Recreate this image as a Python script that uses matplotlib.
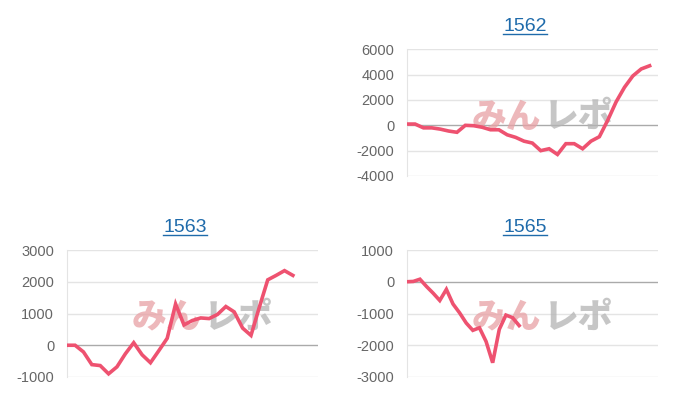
import numpy as np
import matplotlib
matplotlib.use("Agg")
import matplotlib.pyplot as plt
from matplotlib.lines import Line2D

plt.rcParams['font.family'] = ['Liberation Sans', 'Noto Sans CJK JP', 'DejaVu Sans']

# data
v1562 = [100, 100, -200, -200, -300, -450, -550, 0, -30, -150, -350, -350,
         -750, -950, -1250, -1400, -2000, -1850, -2300, -1450, -1450, -1850,
         -1250, -900, 400, 1850, 3000, 3900, 4450, 4700]
v1563 = [0, 0, -210, -610, -640, -900, -680, -270, 80, -300, -550, -170,
         220, 1300, 640, 780, 860, 840, 970, 1220, 1050, 540, 310, 1200,
         2060, 2200, 2350, 2200]
v1565 = [0, 10, 80, -150, -360, -590, -240, -700, -980, -1300, -1530, -1450,
         -1880, -2550, -1500, -1050, -1130, -1380]

charts = [
    # name, values, x span, y ticks
    ("1562", v1562, 30, [-4000, -2000, 0, 2000, 4000, 6000]),
    ("1563", v1563, 30, [-1000, 0, 1000, 2000, 3000]),
    ("1565", v1565, 38, [-3000, -2000, -1000, 0, 1000]),
]

W, H = 700, 400
# axes boxes in pixels: left, top, right, bottom
boxes = [(406.7, 49.3, 658, 176), (66.7, 250, 318, 377), (406.7, 250, 658, 377)]

fig = plt.figure(figsize=(7, 4), dpi=100)
line_col = "#ee5270"
title_col = "#1f6bab"

for (name, vals, span, yt), (l, t, r, b) in zip(charts, boxes):
    ax = fig.add_axes([l / W, 1 - b / H, (r - l) / W, (b - t) / H])
    ax.plot(np.arange(len(vals)), vals, color=line_col, lw=2.6,
            solid_joinstyle="miter", zorder=3)
    ax.set_xlim(0, span)
    ax.set_ylim(yt[0], yt[-1])
    ax.set_yticks(yt)
    ax.set_yticklabels([str(v) for v in yt])
    ax.set_xticks([])
    ax.tick_params(axis="y", length=0, pad=9, labelsize=10.5, labelcolor="#666666")
    for y in yt:
        ax.axhline(y, color="#aaaaaa" if y == 0 else "#e4e4e4", lw=1, zorder=1)
    for s in ["top", "right", "bottom"]:
        ax.spines[s].set_visible(False)
    ax.spines["left"].set_color("#e4e4e4")
    # watermark
    ax.text(0.535, 0.47, "みん", transform=ax.transAxes, ha="right", va="center",
            fontsize=25, fontweight="black", family="Noto Sans CJK JP",
            color="#e8a0a4", alpha=0.75, zorder=2)
    ax.text(0.545, 0.47, "レポ", transform=ax.transAxes, ha="left", va="center",
            fontsize=25, fontweight="black", family="Noto Sans CJK JP",
            color="#b4b4b4", alpha=0.75, zorder=2)
    # linked title with underline
    cx = (l + r) / 2 - 7
    fig.text(cx / W, 1 - (t - 22.5) / H, name, ha="center", va="center",
             fontsize=14, color=title_col)
    fig.add_artist(Line2D([(cx - 22) / W, (cx + 22) / W],
                          [1 - (t - 15) / H, 1 - (t - 15) / H],
                          color=title_col, lw=1))

fig.savefig("out.png", dpi=100, facecolor="white")
